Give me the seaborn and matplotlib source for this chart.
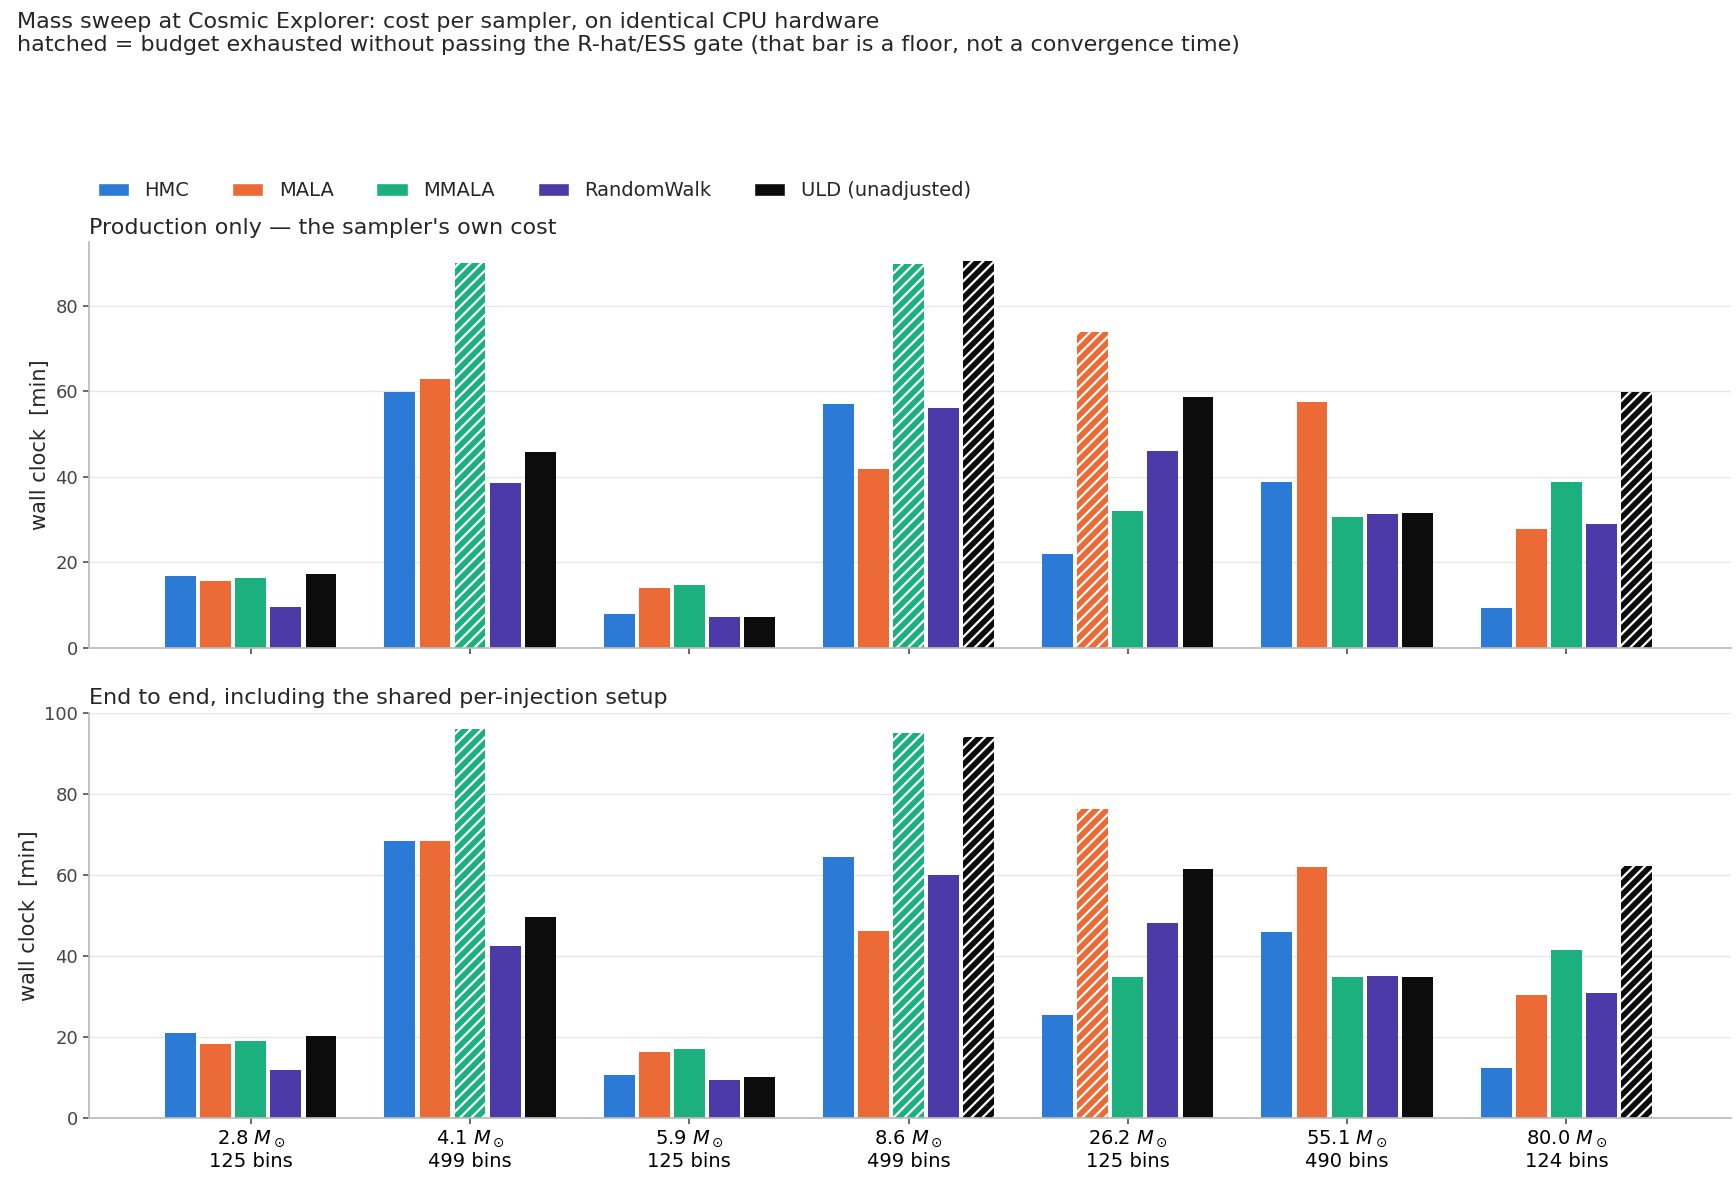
import numpy as np
import pandas as pd
import matplotlib
matplotlib.use("Agg")
import matplotlib.pyplot as plt
import seaborn as sns

MASSES = ["2.8", "4.1", "5.9", "8.6", "26.2", "55.1", "80.0"]
BINS = [125, 499, 125, 499, 125, 490, 124]
SAMPLERS = ["HMC", "MALA", "MMALA", "RandomWalk", "ULD (unadjusted)"]
COLORS = ["#2b7bd6", "#eb6a35", "#1bb07d", "#4c3aa8", "#0c0c0c"]

# rows = mass, cols = sampler
PROD = [
    [16.7, 15.6, 16.4, 9.6, 17.2],
    [59.9, 62.8, 90.1, 38.5, 45.8],
    [7.8, 14.1, 14.6, 7.3, 7.3],
    [57.0, 41.9, 89.8, 56.0, 90.4],
    [21.9, 74.0, 32.0, 46.1, 58.6],
    [38.8, 57.6, 30.5, 31.2, 31.5],
    [9.4, 27.9, 38.8, 28.9, 59.9],
]
E2E = [
    [21.0, 18.3, 19.1, 11.9, 20.2],
    [68.4, 68.4, 96.1, 42.4, 49.6],
    [10.8, 16.3, 17.2, 9.4, 10.2],
    [64.5, 46.3, 95.0, 60.1, 93.9],
    [25.5, 76.2, 34.9, 48.2, 61.5],
    [46.0, 62.0, 34.9, 35.2, 34.9],
    [12.5, 30.5, 41.6, 31.0, 62.3],
]
# budget exhausted (hatched)
EXHAUSTED = [
    [0, 0, 0, 0, 0],
    [0, 0, 1, 0, 0],
    [0, 0, 0, 0, 0],
    [0, 0, 1, 0, 1],
    [0, 1, 0, 0, 0],
    [0, 0, 0, 0, 0],
    [0, 0, 0, 0, 1],
]

sns.set_theme(style="whitegrid")
plt.rcParams["hatch.color"] = "white"
plt.rcParams["hatch.linewidth"] = 1.6

labels = [f"{m} $M_\\odot$\n{b} bins" for m, b in zip(MASSES, BINS)]


def make_df(values):
    rows = []
    for i, lab in enumerate(labels):
        for j, s in enumerate(SAMPLERS):
            rows.append({"mass": lab, "sampler": s, "t": values[i][j]})
    return pd.DataFrame(rows)


fig, axes = plt.subplots(2, 1, figsize=(17.36, 11.81), dpi=100)
fig.subplots_adjust(left=0.051, right=0.997, top=0.795, bottom=0.053, hspace=0.16)

titles = ["Production only — the sampler's own cost",
          "End to end, including the shared per-injection setup"]
for ax, vals, title in zip(axes, [PROD, E2E], titles):
    sns.barplot(data=make_df(vals), x="mass", y="t", hue="sampler",
                hue_order=SAMPLERS, palette=COLORS, order=labels,
                width=0.8, gap=0.12, ax=ax, saturation=1,
                legend=(ax is axes[0]))
    for j, cont in enumerate(ax.containers):
        for i, bar in enumerate(cont):
            bar.set_linewidth(0)
            if EXHAUSTED[i][j]:
                bar.set_edgecolor("white")
                bar.set_hatch("///")
    ax.set_xlim(-0.74, 6.75)
    ax.set_xlabel("")
    ax.set_ylabel("wall clock  [min]", fontsize=15)
    ax.set_title(title, loc="left", fontsize=16)
    ax.grid(axis="x", visible=False)
    ax.grid(axis="y", color="#e6e6e6")
    for sp in ["top", "right"]:
        ax.spines[sp].set_visible(False)
    for sp in ["left", "bottom"]:
        ax.spines[sp].set_color("#bbbbbb")
    ax.tick_params(axis="both", length=4, color="#555555", labelsize=13,
                   labelcolor="#444444", bottom=True, left=True)

axes[0].set_xticklabels([])
axes[1].tick_params(axis="x", labelsize=14, labelcolor="black")
axes[1].set_ylim(0, 100)

leg = axes[0].get_legend()
handles, labs = axes[0].get_legend_handles_labels()
leg.remove()
axes[0].legend(handles, labs, loc="lower left", bbox_to_anchor=(-0.005, 1.06),
               ncol=5, frameon=False, fontsize=14, handlelength=1.6,
               columnspacing=2.2)

fig.text(0.01, 0.99, "Mass sweep at Cosmic Explorer: cost per sampler, on identical CPU hardware\n"
         "hatched = budget exhausted without passing the R-hat/ESS gate "
         "(that bar is a floor, not a convergence time)",
         ha="left", va="top", fontsize=16)

fig.savefig("out.png", dpi=100)
